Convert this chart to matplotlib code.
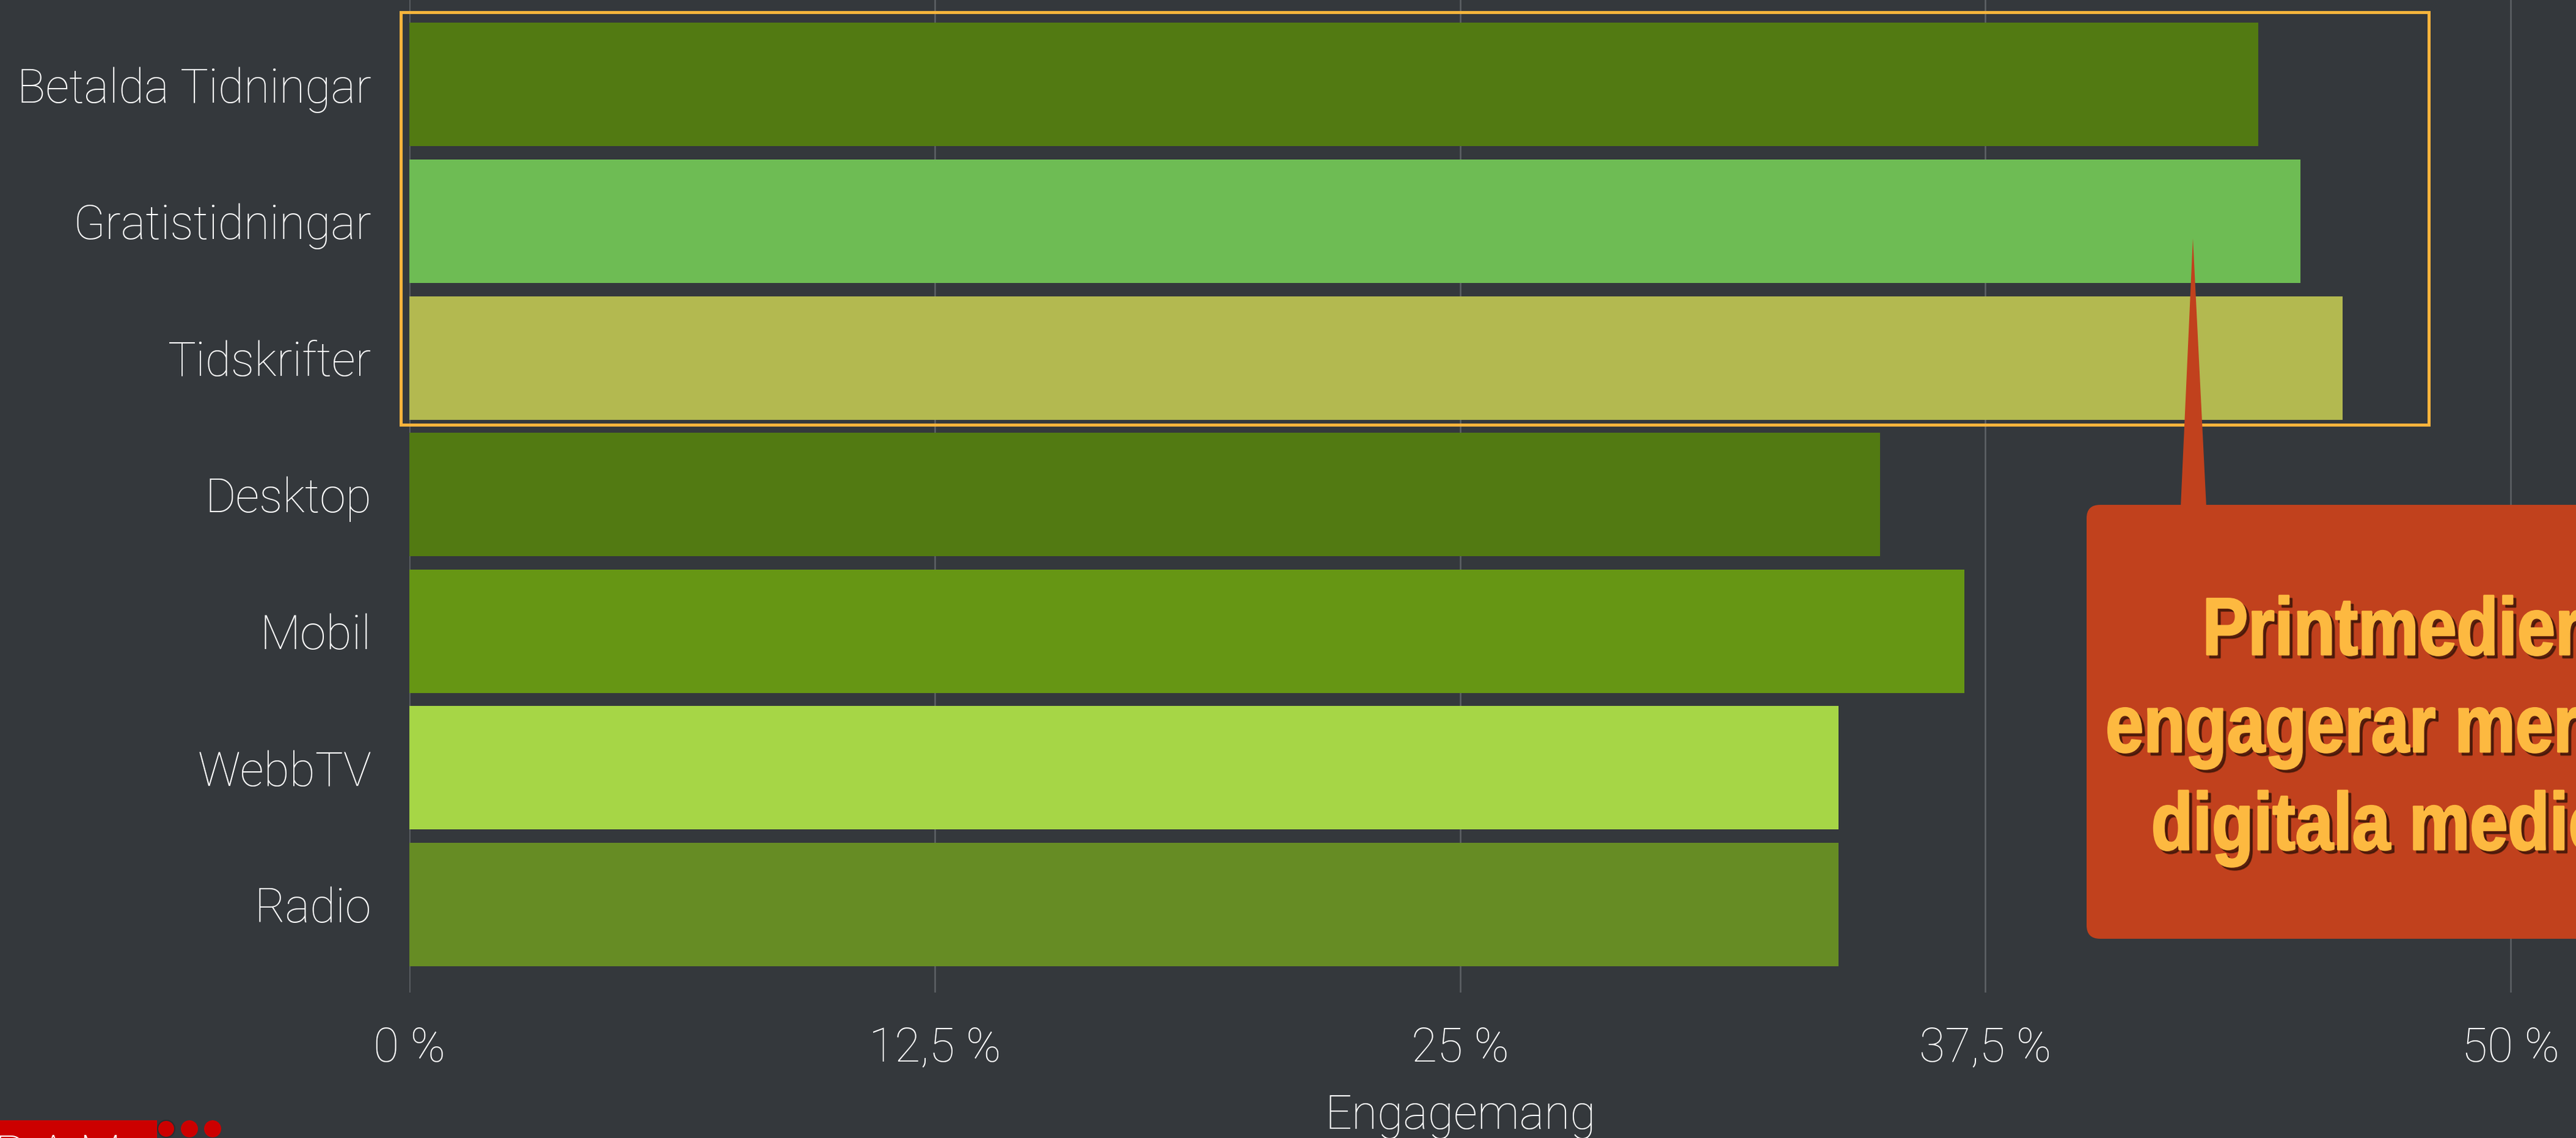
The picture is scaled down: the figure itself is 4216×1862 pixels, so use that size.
import matplotlib
matplotlib.use("Agg")
import matplotlib.pyplot as plt
from matplotlib import patheffects
from matplotlib.colors import to_rgb
from matplotlib.patches import Rectangle, FancyBboxPatch, Polygon, Circle
from matplotlib.transforms import Affine2D

# Engagement per media channel (percent)
categories = ["Betalda Tidningar", "Gratistidningar", "Tidskrifter",
              "Desktop", "Mobil", "WebbTV", "Radio"]
engagement = [44, 45, 46, 35, 37, 34, 34]
bar_colors = ["#527A12", "#6EBC54", "#B3B950", "#527A12",
              "#669614", "#A6D646", "#668C24"]
x_ticks = [0, 12.5, 25, 37.5, 50]
x_tick_labels = ["0 %", "12,5 %", "25 %", "37,5 %", "50 %"]
callout_lines = ["Printmedier", "engagerar mer än", "digitala medier"]

BG = "#34383C"
GRID = "#5E6266"
W, H = 4216, 1862
DPI = 72

light = dict(family=["Roboto", "Lato", "DejaVu Sans"], weight="light", color="white")


class Condensed(patheffects.AbstractPathEffect):
    """Squeeze glyphs horizontally around cx, thicken them and drop a shadow."""

    def __init__(self, cx, sx=0.84, stroke=3.0, shadow="#3A1508", offset=(5, -5), alpha=0.75):
        super().__init__()
        self.cx, self.sx, self.stroke = cx, sx, stroke
        self.shadow, self.off, self.alpha = to_rgb(shadow), offset, alpha

    def draw_path(self, renderer, gc, tpath, affine, rgbFace=None):
        squeeze = affine + Affine2D().translate(-self.cx, 0).scale(self.sx, 1).translate(self.cx, 0)
        gc0 = renderer.new_gc()
        gc0.copy_properties(gc)
        gc0.set_alpha(self.alpha)
        gc0.set_foreground(self.shadow)
        gc0.set_linewidth(self.stroke)
        renderer.draw_path(gc0, tpath, squeeze + Affine2D().translate(*self.off), self.shadow)
        gc0.set_alpha(1)
        gc0.set_foreground(rgbFace)
        renderer.draw_path(gc0, tpath, squeeze, rgbFace)
        gc0.restore()


fig = plt.figure(figsize=(W / DPI, H / DPI), dpi=DPI, facecolor=BG)

# main bar axes, pixel layout converted to figure fractions
left_px, bottom_px = 670, 1624
ax = fig.add_axes([left_px / W, 1 - bottom_px / H, 1 - left_px / W, bottom_px / H])
ax.set_facecolor(BG)
ax.barh(range(len(categories)), engagement, height=0.903, color=bar_colors, zorder=2)
ax.set_xlim(0, (W - left_px) / 68.78)
ax.set_ylim(6.644, -0.619)
ax.set_xticks(x_ticks)
ax.set_xticklabels(x_tick_labels, fontsize=77, **light)
ax.set_yticks(range(len(categories)))
ax.set_yticklabels(categories, fontsize=77, **light)
ax.tick_params(axis="x", length=0, pad=54)
ax.tick_params(axis="y", length=0, pad=62)
ax.grid(axis="x", color=GRID, linewidth=2.5, zorder=0)
ax.set_axisbelow(True)
for s in ax.spines.values():
    s.set_visible(False)

fig.text(2390 / W, 1 - 1847 / H, "Engagemang", ha="center", va="baseline",
         fontsize=77, **light)

# overlay in pixel coordinates for the highlight box, callout and logo
ov = fig.add_axes([0, 0, 1, 1], zorder=5)
ov.set_xlim(0, W)
ov.set_ylim(H, 0)
ov.axis("off")
ov.patch.set_visible(False)

ov.add_patch(Rectangle((656, 20), 3975 - 656, 695 - 20, fill=False,
                       edgecolor="#FBB43C", linewidth=5))

callout = "#C1411D"
ov.add_patch(FancyBboxPatch((3415, 826), 980, 710,
                            boxstyle="round,pad=0,rounding_size=22",
                            facecolor=callout, edgecolor="none"))
ov.add_patch(Polygon([(3569, 830), (3611, 830), (3589, 390)], closed=True,
                     facecolor=callout, edgecolor="none"))

text_cx = 3915
cx_disp = ov.transData.transform((text_cx, 0))[0]
for line, base in zip(callout_lines, [1071, 1230, 1390]):
    ov.text(text_cx, base, line, ha="center", va="baseline", fontsize=133,
            family=["Liberation Sans", "DejaVu Sans"], weight="bold",
            color="#FDB940", path_effects=[Condensed(cx_disp)])

# logo strip in the lower left corner
ov.add_patch(Rectangle((0, 1833), 257, 40, facecolor="#CC0000", edgecolor="none"))
for i, cx in enumerate([272, 310, 348]):
    ov.add_patch(Circle((cx, 1847), 14, facecolor="#CC0000",
                        edgecolor="#2A2D30" if i == 0 else "none", linewidth=2))
ov.text(-8, 1853, "R A M", ha="left", va="top", fontsize=80,
        family=["Roboto", "DejaVu Sans"], weight="light", color="white")

fig.savefig("out.png", dpi=DPI, facecolor=BG)
